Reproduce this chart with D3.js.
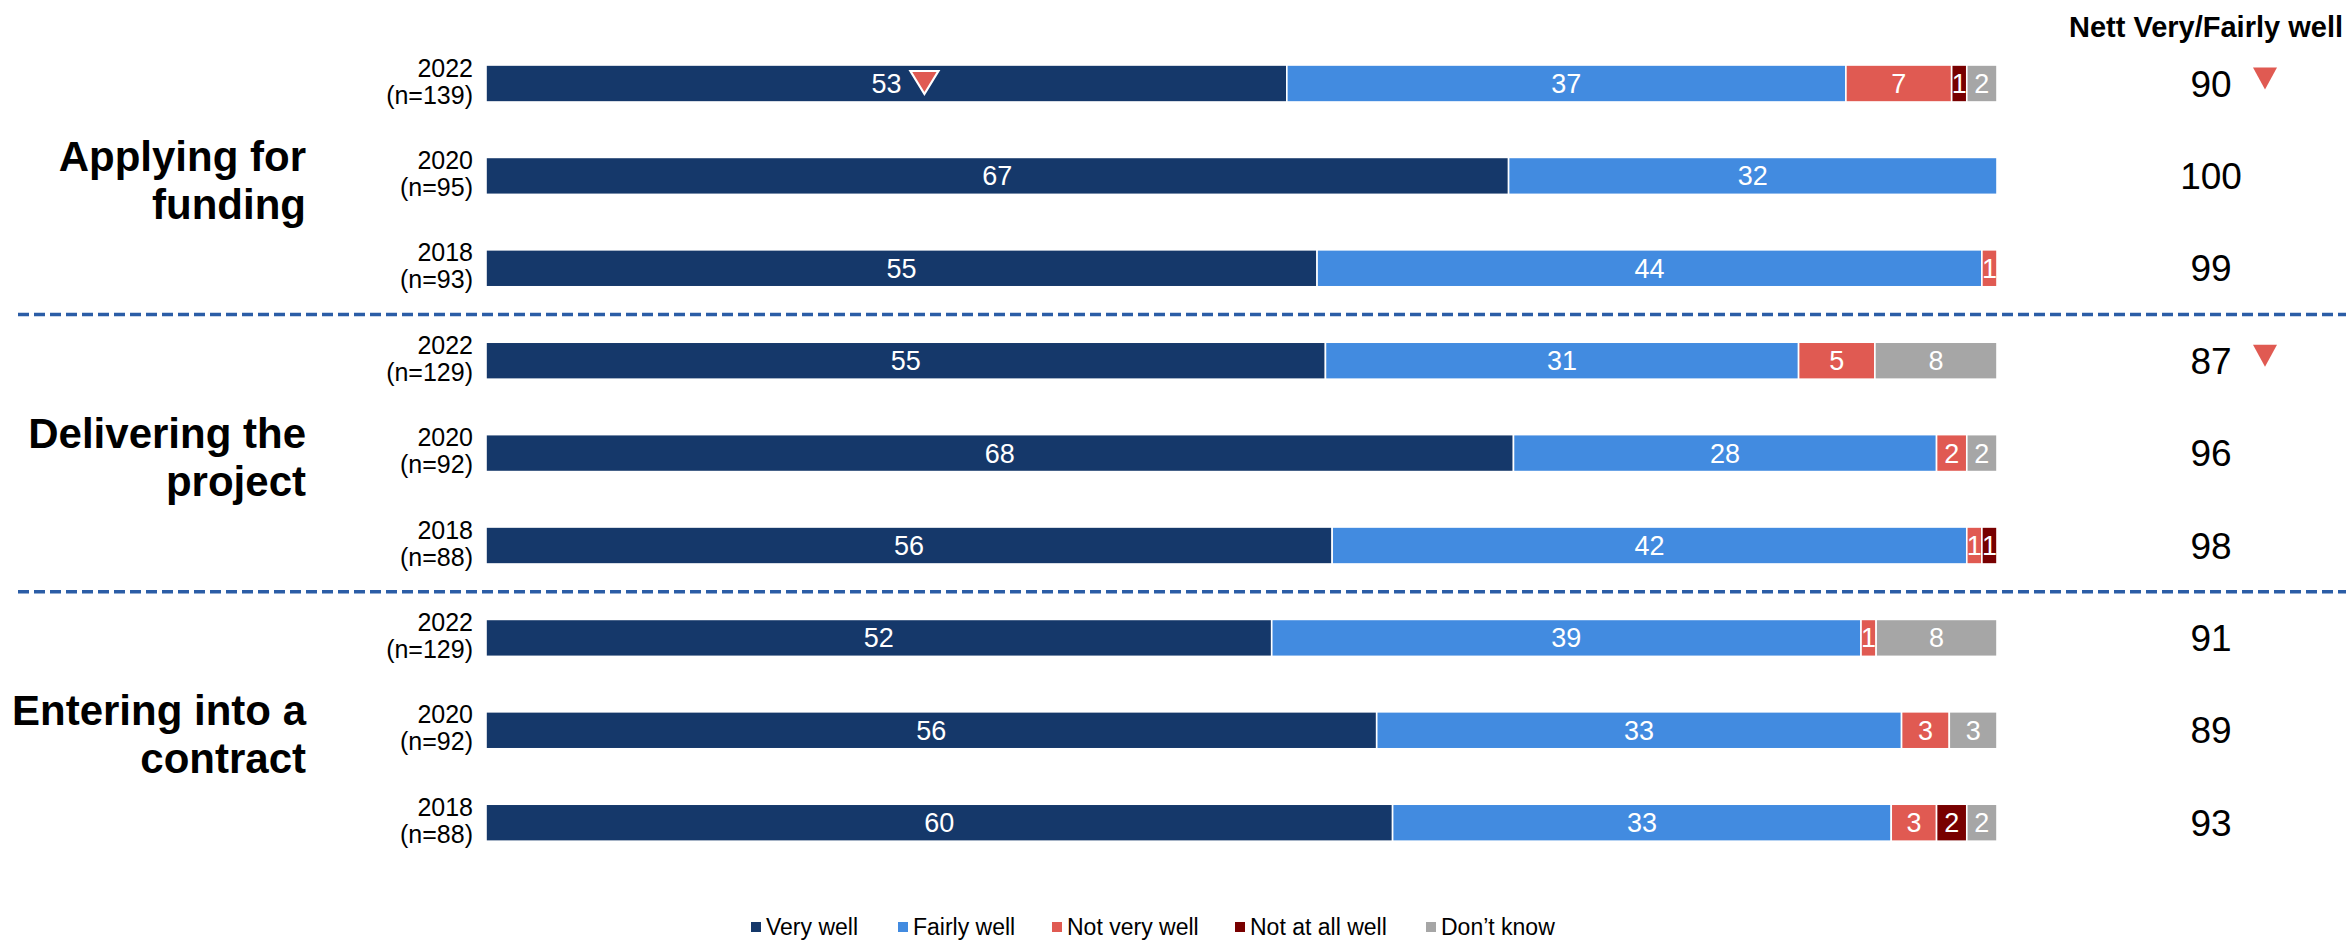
<!DOCTYPE html>
<html>
<head>
<meta charset="utf-8">
<script src="https://cdn.jsdelivr.net/npm/d3@7"></script>
<style>
  html, body { margin: 0; padding: 0; background: #ffffff; }
  svg { display: block; font-family: "Liberation Sans", Arial, sans-serif; }
</style>
</head>
<body>
<svg id="chart" width="2346" height="942"></svg>
<script>
// Stages, waves and bases
const stageLines = [["Applying for", "funding"], ["Delivering the", "project"], ["Entering into a", "contract"]];
const waves = ["2022", "2020", "2018"];
const bases = [139, 95, 93, 129, 92, 88, 129, 92, 88];

// Response categories (legend order) and colours
const responses = ["Very well", "Fairly well", "Not very well", "Not at all well", "Don’t know"];
const colours = ["#15386a", "#428be0", "#e05a52", "#780000", "#a6a6a6"];

// Percentages per row (stage × wave, top to bottom)
const veryWell     = [53, 67, 55, 55, 68, 56, 52, 56, 60];
const fairlyWell   = [37, 32, 44, 31, 28, 42, 39, 33, 33];
const notVeryWell  = [7, 0, 1, 5, 2, 1, 1, 3, 3];
const notAtAllWell = [1, 0, 0, 0, 0, 1, 0, 0, 2];
const dontKnow     = [2, 0, 0, 8, 2, 0, 8, 3, 2];

// Nett Very/Fairly well and significant decreases
const nett = [90, 100, 99, 87, 96, 98, 91, 89, 93];
const nettDecrease = [true, false, false, true, false, false, false, false, false];
const veryWellDecrease = [true, false, false, false, false, false, false, false, false];

const series = [veryWell, fairlyWell, notVeryWell, notAtAllWell, dontKnow];
const rows = veryWell.map((_, i) => {
  const r = { id: i, stage: Math.floor(i / 3), wave: waves[i % 3], n: bases[i] };
  responses.forEach((k, j) => { r[k] = series[j][i]; });
  return r;
});

const svg = d3.select("#chart");

const x = d3.scaleLinear().domain([0, 1]).range([486, 1997]);
const y = d3.scaleBand()
  .domain(rows.map(d => d.id))
  .range([37.3, 868.9])
  .paddingInner(0.6)
  .paddingOuter(0.3);
const colour = d3.scaleOrdinal().domain(responses).range(colours);

const stack = d3.stack().keys(responses).offset(d3.stackOffsetExpand);
const layers = stack(rows);

const cy = id => y(id) + y.bandwidth() / 2;

// Stacked 100% bars
const layer = svg.append("g").selectAll("g")
  .data(layers)
  .join("g")
  .attr("fill", d => colour(d.key));

layer.selectAll("rect")
  .data(d => d.filter(s => s[1] - s[0] > 0).map(s => ({ s, key: d.key })))
  .join("rect")
  .attr("x", d => x(d.s[0]))
  .attr("y", d => y(d.s.data.id))
  .attr("width", d => x(d.s[1]) - x(d.s[0]))
  .attr("height", y.bandwidth())
  .attr("stroke", "#ffffff")
  .attr("stroke-width", 1.6);

// Segment value labels
layer.selectAll("text")
  .data(d => d.filter(s => s.data[d.key] > 0).map(s => ({ s, key: d.key })))
  .join("text")
  .attr("x", d => (x(d.s[0]) + x(d.s[1])) / 2)
  .attr("y", d => cy(d.s.data.id) + 9.5)
  .attr("text-anchor", "middle")
  .attr("fill", "#ffffff")
  .attr("font-size", 27)
  .text(d => d.s.data[d.key]);

// Decrease marker next to the Very well value
const tri = (cx, cyy, w, h) => `M${cx - w / 2},${cyy - h / 2}L${cx + w / 2},${cyy - h / 2}L${cx},${cyy + h / 2}Z`;
const vw = layers[0];
svg.append("g").selectAll("path")
  .data(vw.filter(s => veryWellDecrease[s.data.id]))
  .join("path")
  .attr("d", s => tri((x(s[0]) + x(s[1])) / 2 + 38, cy(s.data.id) - 1, 28, 23))
  .attr("fill", "#e05a52")
  .attr("stroke", "#ffffff")
  .attr("stroke-width", 2.2)
  .attr("stroke-linejoin", "miter");

// Wave and base labels
const waveLab = svg.append("g").attr("font-size", 25).attr("fill", "#000").attr("text-anchor", "end");
waveLab.selectAll("text.wave")
  .data(rows).join("text").attr("class", "wave")
  .attr("x", 473).attr("y", d => cy(d.id) - 7)
  .text(d => d.wave);
waveLab.selectAll("text.base")
  .data(rows).join("text").attr("class", "base")
  .attr("x", 473).attr("y", d => cy(d.id) + 20)
  .text(d => `(n=${d.n})`);

// Stage labels, centred on the middle wave of each block
const stageLab = svg.append("g").attr("font-size", 42).attr("font-weight", "bold").attr("text-anchor", "end");
stageLab.selectAll("text")
  .data(stageLines)
  .join("text")
  .attr("x", 306)
  .attr("y", (d, i) => cy(i * 3 + 1) - 5)
  .each(function (lines) {
    d3.select(this).selectAll("tspan")
      .data(lines).join("tspan")
      .attr("x", 306)
      .attr("dy", (l, k) => k === 0 ? 0 : 48)
      .text(l => l);
  });

// Dashed separators between stages
const sepY = [0, 1].map(k => (cy(k * 3 + 2) + cy(k * 3 + 3)) / 2);
svg.append("g").selectAll("line")
  .data(sepY).join("line")
  .attr("x1", 18).attr("x2", 2346)
  .attr("y1", d => d).attr("y2", d => d)
  .attr("stroke", "#2b5da6")
  .attr("stroke-width", 3.5)
  .attr("stroke-dasharray", "11 5");

// Nett column
svg.append("text")
  .attr("x", 2343).attr("y", 37)
  .attr("text-anchor", "end")
  .attr("font-size", 29).attr("font-weight", "bold")
  .text("Nett Very/Fairly well");

svg.append("g").selectAll("text")
  .data(rows).join("text")
  .attr("x", 2211).attr("y", d => cy(d.id) + 13)
  .attr("text-anchor", "middle")
  .attr("font-size", 37)
  .text(d => nett[d.id]);

svg.append("g").selectAll("path")
  .data(rows.filter(d => nettDecrease[d.id])).join("path")
  .attr("d", d => tri(2265, cy(d.id) - 5, 24, 22))
  .attr("fill", "#e05a52");

// Legend
const legendX = [751, 898, 1052, 1235, 1426];
const leg = svg.append("g").selectAll("g")
  .data(responses).join("g")
  .attr("transform", (d, i) => `translate(${legendX[i]},927)`);
leg.append("rect")
  .attr("x", 0).attr("y", -5).attr("width", 10).attr("height", 10)
  .attr("fill", d => colour(d));
leg.append("text")
  .attr("x", 15).attr("y", 8)
  .attr("font-size", 23)
  .text(d => d);
</script>
</body>
</html>
